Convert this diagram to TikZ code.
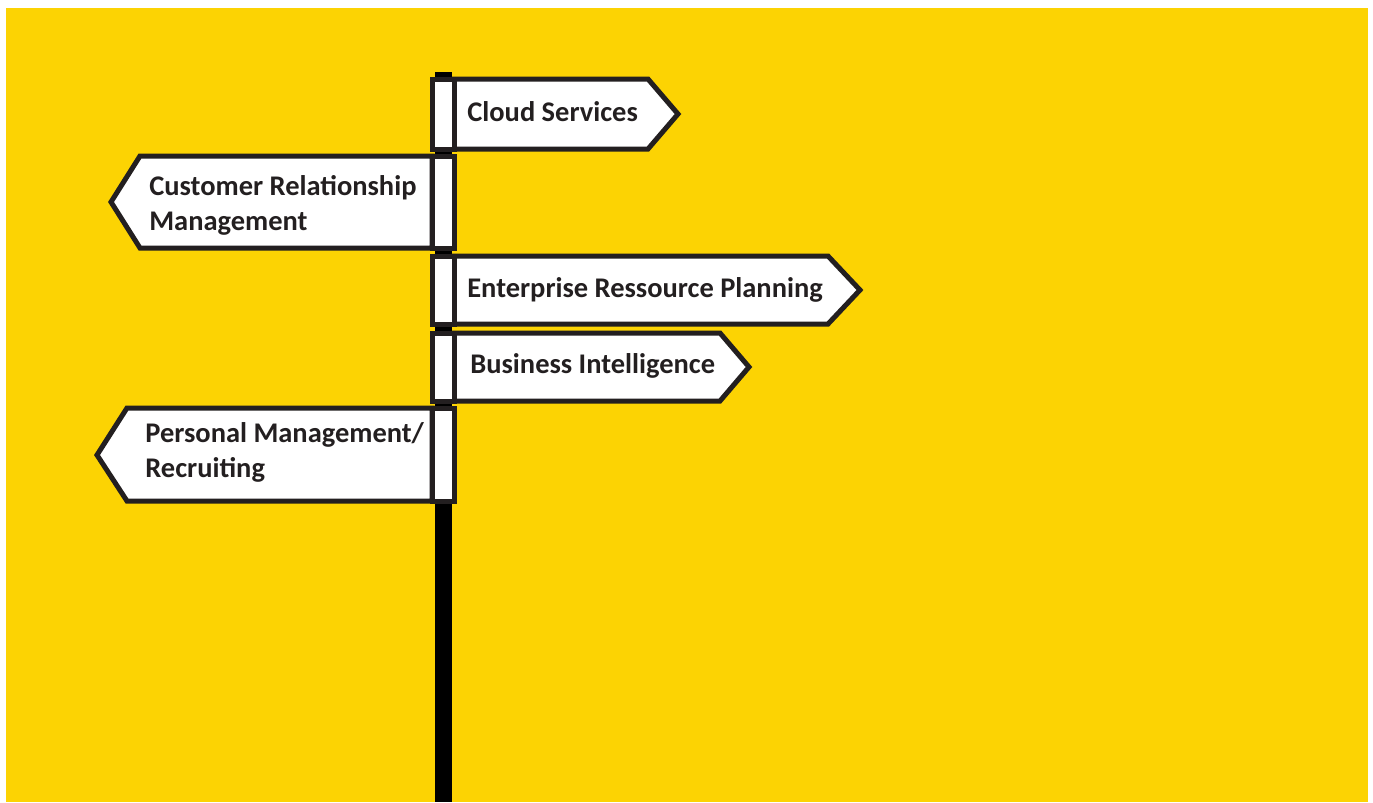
\documentclass[tikz,border=0pt]{standalone}
\usepackage{fontspec}
\setmainfont{Carlito}
\definecolor{signyellow}{RGB}{252,211,3}
\definecolor{signink}{RGB}{35,31,32}
\tikzset{
    signboard/.style={draw=signink, fill=white, line width=1mm, line join=miter},
    signlabel/.style={anchor=base west, inner sep=0pt, align=left, text=signink,
        font=\fontsize{16.2}{19.8}\selectfont\bfseries}
}
\begin{document}
\begin{tikzpicture}[x=0.02cm, y=-0.02cm]

    \useasboundingbox (0,0) rectangle (1373,802);
    \fill[white] (0,0) rectangle (1373,802);
    \fill[signyellow] (6,8) rectangle (1368,802);

    % pole
    \fill[black] (435,72) rectangle (452,802);

    \begin{scope} % right: cloud
        \draw[signboard] (454,79) -- (648,79) -- (678,114) -- (648,149) -- (454,149) -- cycle;
        \draw[signboard] (432,79) rectangle (454,149);
        \node[signlabel] (cloud) at (467,121) {Cloud Services};
    \end{scope}

    \begin{scope} % left: crm
        \draw[signboard] (432,156) -- (140,156) -- (111,202) -- (140,248) -- (432,248) -- cycle;
        \draw[signboard] (432,156) rectangle (454,248);
        \node[signlabel] (crm) at (149,230) {Customer Relationship\\Management};
    \end{scope}

    \begin{scope} % right: erp
        \draw[signboard] (454,256) -- (828,256) -- (860,290) -- (828,324) -- (454,324) -- cycle;
        \draw[signboard] (432,256) rectangle (454,324);
        \node[signlabel] (erp) at (467,297) {Enterprise Ressource Planning};
    \end{scope}

    \begin{scope} % right: bi
        \draw[signboard] (454,333) -- (720,333) -- (749,367) -- (720,401) -- (454,401) -- cycle;
        \draw[signboard] (432,333) rectangle (454,401);
        \node[signlabel] (bi) at (470,373) {Business Intelligence};
    \end{scope}

    \begin{scope} % left: hr
        \draw[signboard] (432,408) -- (127,408) -- (97,455) -- (127,501) -- (432,501) -- cycle;
        \draw[signboard] (432,408) rectangle (454,501);
        \node[signlabel] (hr) at (145,477) {Personal Management/\\Recruiting};
    \end{scope}

\end{tikzpicture}
\end{document}
